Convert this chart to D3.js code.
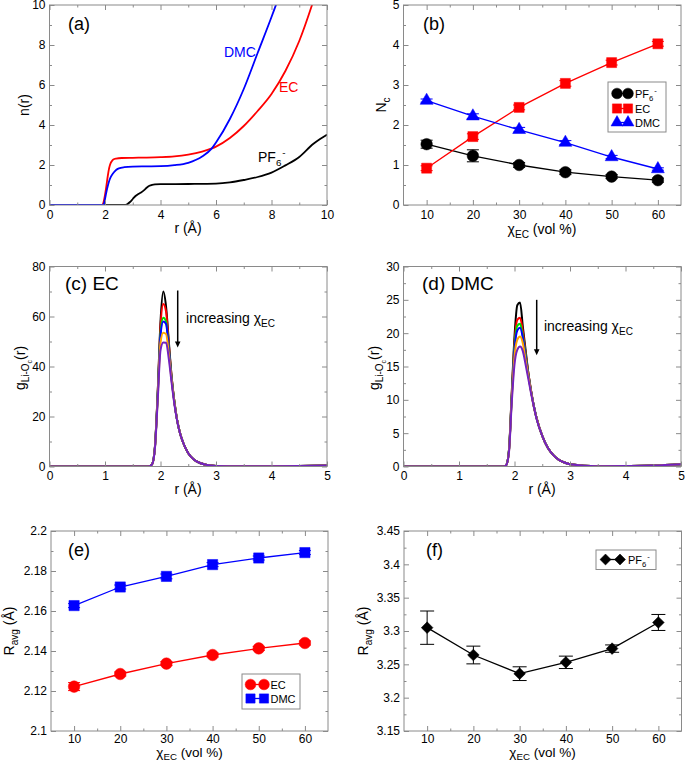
<!DOCTYPE html>
<html><head><meta charset="utf-8">
<script src="https://cdn.jsdelivr.net/npm/d3@7"></script>
<style>body{margin:0;background:#fff}</style>
</head><body>
<svg id="c" width="685" height="762"></svg>
<script>
// ---------- DATA ----------
// (a) running coordination number n(r): [r, n]
const aEC = [[0,0],[1.9,0],[1.95,0.15],[2.0,0.5],[2.05,0.95],[2.1,1.45],[2.15,1.85],[2.2,2.08],[2.25,2.2],[2.3,2.27],[2.4,2.32],[2.6,2.35],[3,2.36],[3.5,2.37],[4,2.39],[4.5,2.43],[5,2.52],[5.5,2.67],[5.85,2.83],[6,2.92],[6.5,3.35],[7,3.95],[7.5,4.7],[8,5.55],[8.5,6.7],[9,8.2],[9.46,10],[9.6,10.6]];
const aDMC = [[0,0],[1.93,0],[1.97,0.1],[2.0,0.3],[2.05,0.65],[2.1,0.95],[2.15,1.2],[2.2,1.38],[2.3,1.6],[2.4,1.75],[2.5,1.83],[2.7,1.89],[3,1.92],[3.5,1.93],[4,1.94],[4.5,1.99],[5,2.11],[5.5,2.42],[5.85,2.83],[6,3.12],[6.5,4.3],[7,5.8],[7.5,7.6],[8,9.4],[8.2,10.15],[8.35,10.7]];
const aPF6 = [[0,0],[2.7,0],[2.8,0.04],[2.9,0.15],[3.0,0.3],[3.1,0.45],[3.2,0.55],[3.3,0.63],[3.4,0.73],[3.5,0.86],[3.6,0.96],[3.7,1.01],[3.8,1.03],[4,1.04],[5,1.05],[6,1.07],[6.5,1.13],[7,1.25],[7.5,1.4],[8,1.62],[8.5,1.98],[9,2.4],[9.5,3.05],[9.75,3.3],[10,3.52]];

// (b) coordination numbers vs EC fraction
const xEC = [10,20,30,40,50,60];
const bPF6 = [1.52,1.23,1.00,0.82,0.71,0.62];
const bPF6err = [0.10,0.15,0.06,0.06,0.05,0.05];
const bEC = [0.92,1.71,2.44,3.04,3.56,4.03];
const bECerr = [0.06,0.07,0.06,0.07,0.06,0.06];
const bDMC = [2.61,2.22,1.88,1.56,1.20,0.90];
const bDMCerr = [0.04,0.06,0.06,0.05,0.04,0.03];

// (c),(d) g(r) on a shared r grid, for increasing EC fraction
const rG = [0,1.75,1.8,1.85,1.9,1.95,2.0,2.05,2.1,2.15,2.2,2.25,2.3,2.35,2.4,2.5,2.6,2.7,2.8,2.9,3.0,3.5,4.0,4.5,5.0];
const cG = [
 [0,0,0.1,1.0,8,30,58,70,64,50,36,26,18.5,13.5,10,5.3,2.8,1.5,0.8,0.45,0.25,0.08,0.1,0.2,0.38],
 [0,0,0.1,1.0,8,29.5,56,65,62,49,36,26,18.5,13.5,10,5.3,2.8,1.5,0.8,0.45,0.25,0.08,0.1,0.2,0.38],
 [0,0,0.1,1.0,7.8,29,53.5,59.5,58,47.5,35.5,26,18.5,13.5,10,5.3,2.8,1.5,0.8,0.45,0.25,0.08,0.1,0.2,0.38],
 [0,0,0.1,1.0,7.8,28.5,52.5,58,57,47,35,25.5,18.5,13.5,10,5.3,2.8,1.5,0.8,0.45,0.25,0.08,0.1,0.2,0.4],
 [0,0,0.1,0.9,7.5,27.5,49.5,53.5,53,45,34.5,25.5,18.5,13.5,10,5.3,2.8,1.5,0.8,0.45,0.25,0.08,0.1,0.2,0.4],
 [0,0,0.1,0.9,7.3,26.5,46.5,49.6,49.5,43,33.5,25,18.3,13.4,10,5.3,2.8,1.5,0.8,0.45,0.25,0.08,0.1,0.2,0.4]
];
const dG = [
 [0,0,0,0.2,2.5,11,19.5,24.2,24.6,21,17.5,14,11.3,9,7.2,4.6,2.8,1.7,1.0,0.6,0.35,0.05,0.08,0.15,0.35],
 [0,0,0,0.2,2.4,10.7,18.5,22,22.3,20.3,17,14,11.3,9,7.2,4.6,2.8,1.7,1.0,0.6,0.35,0.05,0.08,0.15,0.35],
 [0,0,0,0.2,2.4,10.5,18,21.1,21.4,19.6,16.8,13.8,11.2,9,7.2,4.6,2.8,1.7,1.0,0.6,0.35,0.05,0.08,0.15,0.35],
 [0,0,0,0.2,2.3,10.3,17.5,20.4,20.8,19.3,16.5,13.7,11.2,9,7.2,4.6,2.8,1.7,1.0,0.6,0.35,0.05,0.08,0.15,0.35],
 [0,0,0,0.2,2.2,10,16.5,19,19.5,18.5,16,13.5,11.1,8.9,7.2,4.6,2.8,1.7,1.0,0.6,0.35,0.05,0.08,0.15,0.35],
 [0,0,0,0.2,2.1,9.5,15.3,17.5,18.0,17.3,15.3,13.1,10.9,8.9,7.1,4.6,2.8,1.7,1.0,0.6,0.35,0.05,0.08,0.15,0.35]
];
const gColors = ['#000000','#ff0000','#00dd00','#0000ff','#ffa500','#7222c0'];

// (e) average Li-O distance
const eEC = [2.1222,2.1285,2.1337,2.1380,2.1413,2.1440];
const eECerr = [0.002,0.001,0.001,0.001,0.001,0.001];
const eDMC = [2.1627,2.1720,2.1773,2.1832,2.1865,2.1892];
const eDMCerr = [0.001,0.001,0.0012,0.001,0.001,0.001];

// (f) average Li-P distance
const fPF6 = [3.305,3.264,3.236,3.253,3.2736,3.3128];
const fPF6err = [0.025,0.0133,0.0103,0.0093,0.0055,0.012];

// tick values
const aXTicks = [0,2,4,6,8,10], aYTicks = [0,2,4,6,8,10];
const bXTicks = [10,20,30,40,50,60], bYTicks = [0,1,2,3,4,5];
const cXTicks = [0,1,2,3,4,5], cYTicks = [0,20,40,60,80];
const dYTicks = [0,5,10,15,20,25,30];
const eYTicks = [2.1,2.12,2.14,2.16,2.18,2.2];
const fYTicks = [3.15,3.2,3.25,3.3,3.35,3.4,3.45];

// ---------- DRAWING ----------
const FONT = "'Liberation Sans', Arial, Helvetica, sans-serif";
const FRAME = '#8a8a8a';
const svg = d3.select('#c');
svg.append('rect').attr('width',685).attr('height',762).attr('fill','#fff');

const mids = t => t.slice(1).map((v,i)=>(v+t[i])/2);
const fmtNum = d => String(+d.toFixed(4));
let clipId = 0;

function makePanel(o){
  const x = d3.scaleLinear().domain(o.xd).range([o.x0,o.x1]);
  const y = d3.scaleLinear().domain(o.yd).range([o.y1,o.y0]);
  const id = 'clip'+(clipId++);
  svg.append('clipPath').attr('id',id).append('rect')
    .attr('x',o.x0).attr('y',o.y0).attr('width',o.x1-o.x0).attr('height',o.y1-o.y0);
  const data = svg.append('g').attr('clip-path',`url(#${id})`);
  const ax = (gen, tr, vals, size, labels, pad) => {
    const a = svg.append('g').attr('transform',tr)
      .call(gen.tickValues(vals).tickSize(size).tickPadding(pad).tickFormat(labels ? fmtNum : ()=>''));
    a.select('.domain').remove();
    a.attr('font-family',null).attr('font-size',null);
    a.selectAll('line').attr('stroke',FRAME).attr('stroke-width',1);
    a.selectAll('text').attr('fill','#000').style('font-family',FONT).style('font-size','12px');
  };
  const xm = mids(o.xt), ym = mids(o.yt);
  const bp = o.bpad || 5;
  ax(d3.axisBottom(x), `translate(0,${o.y1})`, o.xt, -5, true, bp);
  ax(d3.axisBottom(x), `translate(0,${o.y1})`, xm, -2.5, false, bp);
  ax(d3.axisTop(x), `translate(0,${o.y0})`, o.xt, -5, false, 5);
  ax(d3.axisTop(x), `translate(0,${o.y0})`, xm, -2.5, false, 5);
  ax(d3.axisLeft(y), `translate(${o.x0},0)`, o.yt, -5, true, 4);
  ax(d3.axisLeft(y), `translate(${o.x0},0)`, ym, -2.5, false, 4);
  ax(d3.axisRight(y), `translate(${o.x1},0)`, o.yt, -5, false, 4);
  ax(d3.axisRight(y), `translate(${o.x1},0)`, ym, -2.5, false, 4);
  svg.append('rect').attr('x',o.x0).attr('y',o.y0).attr('width',o.x1-o.x0).attr('height',o.y1-o.y0)
    .attr('fill','none').attr('stroke',FRAME).attr('stroke-width',1);
  const top = svg.append('g');
  return {x,y,data,top};
}

// rich text: parts = [[text, size, dy, dx]]
function rich(g, x, y, parts, opts={}){
  const t = g.append('text').attr('x',x).attr('y',y).style('font-family',FONT)
    .attr('fill', opts.fill||'#000').attr('text-anchor',opts.anchor||'start');
  if(opts.rotate) t.attr('transform',`rotate(-90,${x},${y})`);
  parts.forEach(p=>{
    const s = t.append('tspan').text(p[0]).style('font-size',p[1]+'px');
    if(p[2]) s.attr('dy',p[2]);
    if(p[3]) s.attr('dx',p[3]);
  });
  return t;
}
const chiEC = (s, sd) => [['χ',s],['EC',s*0.72,sd||4],[' (vol %)',s,-(sd||4)]];
const PF6 = (s) => [['PF',s],['6',s*0.7,s*0.3],['-',s*0.7,-s*0.75,1]];

function curve(P, pts, color, w){
  P.data.append('path').datum(pts).attr('fill','none').attr('stroke',color).attr('stroke-width',w)
    .attr('stroke-linejoin','round')
    .attr('d', d3.line().x(d=>P.x(d[0])).y(d=>P.y(d[1])).curve(d3.curveMonotoneX));
}
function series(P, xs, ys, errs, color, sym, size, rot, cap){
  const g = P.top;
  g.append('path').datum(xs.map((v,i)=>[v,ys[i]])).attr('fill','none').attr('stroke',color).attr('stroke-width',1.3)
    .attr('d', d3.line().x(d=>P.x(d[0])).y(d=>P.y(d[1])));
  xs.forEach((v,i)=>{
    const cx = P.x(v), lo = P.y(ys[i]-errs[i]), hi = P.y(ys[i]+errs[i]);
    g.append('line').attr('x1',cx).attr('x2',cx).attr('y1',lo).attr('y2',hi).attr('stroke',color).attr('stroke-width',1);
    [lo,hi].forEach(yy=>g.append('line').attr('x1',cx-cap).attr('x2',cx+cap).attr('y1',yy).attr('y2',yy).attr('stroke',color).attr('stroke-width',1));
  });
  xs.forEach((v,i)=>{
    g.append('path').attr('d', d3.symbol().type(sym).size(size)())
      .attr('transform',`translate(${P.x(v)},${P.y(ys[i])}) rotate(${rot||0})`)
      .attr('fill',color).attr('stroke',color).attr('stroke-width',0.5);
  });
}
function legendRow(g, x1, x2, y, color, sym, size, rot, label, tx){
  g.append('line').attr('x1',x1).attr('x2',x2).attr('y1',y).attr('y2',y).attr('stroke',color).attr('stroke-width',1.3);
  [x1,x2].forEach(xx=>g.append('path').attr('d',d3.symbol().type(sym).size(size)())
    .attr('transform',`translate(${xx},${y}) rotate(${rot||0})`).attr('fill',color).attr('stroke',color).attr('stroke-width',0.5));
  rich(g, tx, y+4, label);
}

// ----- (a) -----
const A = makePanel({x0:49.5,x1:327,y0:5,y1:205,xd:[0,10],yd:[0,10],xt:aXTicks,yt:aYTicks});
curve(A, aPF6, '#000', 1.8);
curve(A, aEC, '#ff0000', 1.8);
curve(A, aDMC, '#0000ff', 1.8);
rich(svg, 68, 30, [['(a)',18]]);
rich(svg, 224, 57, [['DMC',14]], {fill:'#0000ff'});
rich(svg, 279, 92, [['EC',14]], {fill:'#ff0000'});
rich(svg, 258, 162, PF6(14));
rich(svg, 188, 233, [['r (Å)',14]], {anchor:'middle'});
rich(svg, 29, 105, [['n(r)',14]], {anchor:'middle', rotate:true});

// ----- (b) -----
const B = makePanel({x0:403.5,x1:681,y0:5,y1:205,xd:[5,65],yd:[0,5],xt:bXTicks,yt:bYTicks});
series(B, xEC, bPF6, bPF6err, '#000', d3.symbolCircle, 105, 0, 6);
series(B, xEC, bEC, bECerr, '#ff0000', d3.symbolSquare, 100, 0, 6);
series(B, xEC, bDMC, bDMCerr, '#0000ff', d3.symbolTriangle, 72, 0, 6);
rich(svg, 423, 30, [['(b)',18]]);
const LB = svg.append('g');
LB.append('rect').attr('x',608).attr('y',82).attr('width',58).attr('height',50).attr('fill','#fff').attr('stroke',FRAME);
legendRow(LB, 617, 628, 93.5, '#000', d3.symbolCircle, 90, 0, PF6(11), 635);
legendRow(LB, 617, 628, 108.5, '#ff0000', d3.symbolSquare, 85, 0, [['EC',11]], 635);
legendRow(LB, 617, 628, 122.5, '#0000ff', d3.symbolTriangle, 62, 0, [['DMC',11]], 635);
rich(svg, 542, 234, chiEC(14), {anchor:'middle'});
rich(svg, 386, 105, [['N',14],['c',10,4]], {anchor:'middle', rotate:true});

// ----- (c) -----
const C = makePanel({x0:49.5,x1:327,y0:266.5,y1:466.5,xd:[0,5],yd:[0,80],xt:cXTicks,yt:cYTicks});
cG.forEach((s,i)=>curve(C, rG.map((r,j)=>[r,s[j]]), gColors[i], 2));
rich(svg, 65, 290, [['(c) EC',19]]);
function arrow(P, xv, yTop, yBot){
  const ax = P.x(xv), y1 = P.y(yTop), y2 = P.y(yBot);
  svg.append('line').attr('x1',ax).attr('x2',ax).attr('y1',y1).attr('y2',y2-5).attr('stroke','#000').attr('stroke-width',1.5);
  svg.append('path').attr('d',`M${ax-2.8},${y2-6}L${ax+2.8},${y2-6}L${ax},${y2}Z`).attr('fill','#000');
}
arrow(C, 2.31, 70.4, 47.6);
rich(svg, C.x(2.46), C.y(57.4), [['increasing ',14],['χ',14],['EC',10,4]]);
rich(svg, 188, 494, [['r (Å)',14]], {anchor:'middle'});
rich(svg, 25, 368, [['g',14],['Li-O',10,4],['c',7,3],['(r)',14,-7]], {anchor:'middle', rotate:true});

// ----- (d) -----
const D = makePanel({x0:403.5,x1:681,y0:266.5,y1:466.5,xd:[0,5],yd:[0,30],xt:cXTicks,yt:dYTicks});
dG.forEach((s,i)=>curve(D, rG.map((r,j)=>[r,s[j]]), gColors[i], 2));
rich(svg, 422, 290, [['(d) DMC',19]]);
arrow(D, 2.40, 25, 16.7);
rich(svg, D.x(2.53), D.y(20.4), [['increasing ',14],['χ',14],['EC',10,4]]);
rich(svg, 542, 494, [['r (Å)',14]], {anchor:'middle'});
rich(svg, 379, 368, [['g',14],['Li-O',10,4],['c',7,3],['(r)',14,-7]], {anchor:'middle', rotate:true});

// ----- (e) -----
const E = makePanel({x0:51,x1:328,y0:531,y1:731,xd:[5,65],yd:[2.1,2.2],xt:bXTicks,yt:eYTicks,bpad:3});
series(E, xEC, eEC, eECerr, '#ff0000', d3.symbolCircle, 105, 0, 6);
series(E, xEC, eDMC, eDMCerr, '#0000ff', d3.symbolSquare, 105, 0, 6);
rich(svg, 68, 556, [['(e)',18]]);
const LE = svg.append('g');
LE.append('rect').attr('x',242).attr('y',674).attr('width',58).attr('height',35).attr('fill','#fff').attr('stroke',FRAME);
legendRow(LE, 250.5, 264, 684.5, '#ff0000', d3.symbolCircle, 90, 0, [['EC',11]], 270.5);
legendRow(LE, 250.5, 264, 698.5, '#0000ff', d3.symbolSquare, 85, 0, [['DMC',11]], 270.5);
rich(svg, 189.5, 757, chiEC(13.5, 2.5), {anchor:'middle'});
rich(svg, 14, 631, [['R',14],['avg',10,4],[' (Å)',14,-4]], {anchor:'middle', rotate:true});

// ----- (f) -----
const F = makePanel({x0:404,x1:681.5,y0:531,y1:731,xd:[5,65],yd:[3.15,3.45],xt:bXTicks,yt:fYTicks,bpad:3});
series(F, xEC, fPF6, fPF6err, '#000', d3.symbolSquare, 68, 45, 7);
rich(svg, 426, 556, [['(f)',18]]);
const LF = svg.append('g');
LF.append('rect').attr('x',596).attr('y',550).attr('width',60).attr('height',19.5).attr('fill','#fff').attr('stroke',FRAME);
legendRow(LF, 605.5, 620, 559.5, '#000', d3.symbolSquare, 60, 45, PF6(11), 628);
rich(svg, 542.5, 757, chiEC(13.5, 2.5), {anchor:'middle'});
rich(svg, 368, 631, [['R',14],['avg',10,4],[' (Å)',14,-4]], {anchor:'middle', rotate:true});
</script></body></html>
